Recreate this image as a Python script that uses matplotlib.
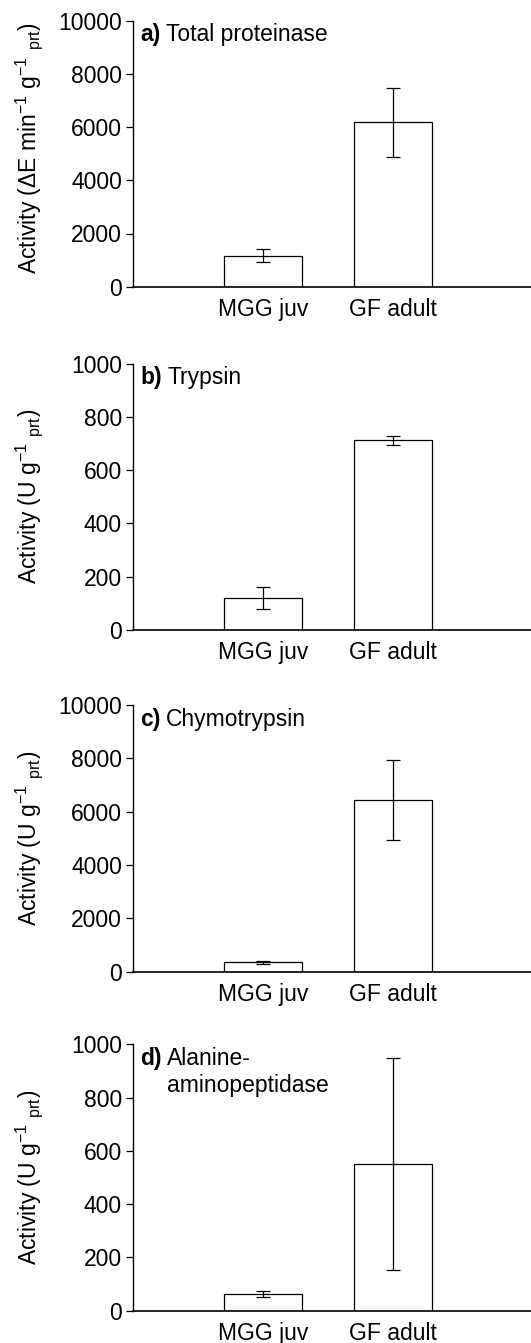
import matplotlib
matplotlib.use("Agg")
from matplotlib import pyplot as plt

plt.rcParams['font.family'] = ['Liberation Sans', 'DejaVu Sans']
plt.rcParams['mathtext.fontset'] = 'custom'
plt.rcParams['mathtext.rm'] = 'Liberation Sans'
plt.rcParams['mathtext.it'] = 'Liberation Sans:italic'

groups = ['MGG juv', 'GF adult']

# mean activity and error
total_mean = [1165, 6180]
total_err = [250, 1300]
trypsin_mean = [119, 712]
trypsin_err = [40, 17]
chymo_mean = [350, 6450]
chymo_err = [60, 1500]
alanine_mean = [62, 550]
alanine_err = [12, 397]

panel_tags = ['a)', 'b)', 'c)', 'd)']
panel_names = ['Total proteinase', 'Trypsin', 'Chymotrypsin',
               'Alanine-\naminopeptidase']
ylabels = [r'Activity (ΔE min$^{-1}$ g$^{-1}$ $_{\mathrm{prt}}$)',
           r'Activity (U g$^{-1}$ $_{\mathrm{prt}}$)',
           r'Activity (U g$^{-1}$ $_{\mathrm{prt}}$)',
           r'Activity (U g$^{-1}$ $_{\mathrm{prt}}$)']
ytops = [10000, 1000, 10000, 1000]
ysteps = [2000, 200, 2000, 200]

means = [total_mean, trypsin_mean, chymo_mean, alanine_mean]
errs = [total_err, trypsin_err, chymo_err, alanine_err]

W, H = 531, 1343
fig = plt.figure(figsize=(W / 100, H / 100), dpi=100)

# axes boxes in pixels: (top, bottom)
boxes = [(20.7, 286.7), (363.7, 629.7), (705.0, 971.7), (1044.3, 1310.7)]
left_px = 133

for i in range(4):
    top, bot = boxes[i]
    ax = fig.add_axes([left_px / W, (H - bot) / H, (W - left_px) / W, (bot - top) / H])
    x = range(len(groups))
    ax.bar(x, means[i], width=0.6, color='white', edgecolor='black',
           linewidth=0.9, zorder=2)
    ax.errorbar(x, means[i], yerr=errs[i], fmt='none', ecolor='black',
                elinewidth=0.9, capsize=5, capthick=0.9, zorder=3)
    ax.set_xlim(-1.0, 2.06)
    ax.set_ylim(0, ytops[i])
    ax.set_yticks(range(0, ytops[i] + 1, ysteps[i]))
    ax.set_xticks(list(x))
    ax.set_xticklabels(groups)
    ax.spines['top'].set_visible(False)
    ax.spines['right'].set_visible(False)
    ax.spines['left'].set_linewidth(1.0)
    ax.spines['bottom'].set_linewidth(1.2)
    ax.tick_params(axis='y', direction='out', length=5, width=0.9,
                   labelsize=16.5, pad=3)
    ax.tick_params(axis='x', length=0, labelsize=16.5, pad=8)
    ax.set_ylabel(ylabels[i], fontsize=16.5)
    ax.yaxis.set_label_coords(-0.222, 0.52 if i == 0 else 0.5)

    tag = ax.text(0.018, 0.99, panel_tags[i], transform=ax.transAxes,
                  fontsize=16.5, fontweight='bold', va='top', ha='left')
    ax.annotate(panel_names[i], xy=(1, 1), xycoords=tag, xytext=(4, 0),
                textcoords='offset points', fontsize=16.5, va='top', ha='left',
                linespacing=1.2)

fig.savefig('out.png', dpi=100)
